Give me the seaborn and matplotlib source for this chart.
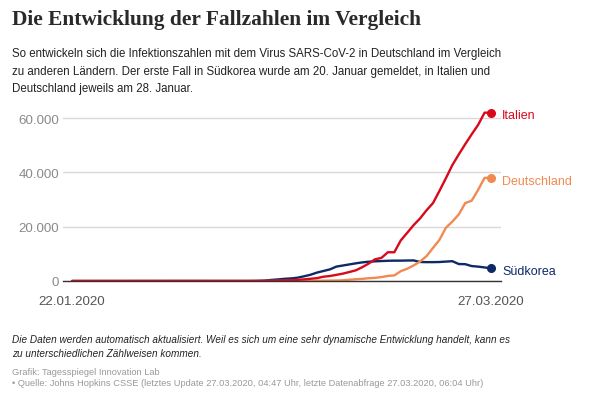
import pandas as pd
import matplotlib
matplotlib.use("Agg")
import matplotlib.pyplot as plt
import matplotlib.dates as mdates
from matplotlib.ticker import FuncFormatter
import seaborn as sns

# aktive Fälle pro Tag, 22.01.2020 bis 27.03.2020
dates = pd.date_range("2020-01-22", "2020-03-27", freq="D")

italien = [0] * 9 + [2] * 7 + [3] * 14 + [
    19, 59, 150, 221, 311, 438, 593, 821, 1053,
    1577, 1835, 2263, 2706, 3296, 3916, 5061, 6387, 7985, 8514,
    10590, 10590, 14955, 17750, 20603, 23073, 26062, 28710, 33190, 37860,
    42681, 46638, 50418, 54030, 57521, 62013, 62013]

deutschland = [0] * 6 + [4, 4, 4, 5] + [
    8, 10, 12, 12, 12, 12, 13, 13, 14, 14, 16, 16, 16, 16, 16, 16, 16, 16, 16, 16,
    2, 2, 2, 2, 3, 13, 32, 34, 63,
    114, 143, 180, 246, 466, 653, 781, 1022, 1156, 1437,
    1880, 2050, 3622, 4530, 5738, 7188, 9166, 12194, 15163, 19601,
    21896, 24513, 28710, 29586, 33570, 37998, 37998]

suedkorea = [1, 1, 2, 2, 3, 4, 4, 4, 4, 11,
    12, 15, 15, 16, 19, 22, 23, 24, 24, 24, 25, 21, 21, 21, 19, 19, 20, 21, 30,
    90, 190, 410, 590, 810, 950, 1230, 1730, 2300, 3100,
    3690, 4270, 5300, 5700, 6100, 6500, 6850, 7100, 7250, 7350,
    7450, 7500, 7500, 7550, 7580, 7000, 6950, 6950, 7000, 7150,
    7300, 6250, 6200, 5500, 5300, 5000, 4650]

laender = ["Italien", "Deutschland", "Südkorea"]
farben = {"Italien": "#d8091a", "Deutschland": "#f08a50", "Südkorea": "#0d2a66"}

df = pd.DataFrame({"Datum": dates, "Italien": italien,
                   "Deutschland": deutschland, "Südkorea": suedkorea})
long = df.melt(id_vars="Datum", var_name="Land", value_name="Fälle")

sns.set_style("white")
plt.rcParams["font.family"] = ["Liberation Sans", "DejaVu Sans"]

fig = plt.figure(figsize=(5.95, 4.02), dpi=100)
ax = fig.add_axes([63 / 595, 1 - 282 / 402, 438 / 595, 171 / 402])

sns.lineplot(data=long, x="Datum", y="Fälle", hue="Land", hue_order=laender[::-1],
             palette=farben, linewidth=1.7, legend=False, ax=ax)

for land in laender:
    ax.plot(dates[-1], df[land].iloc[-1], "o", color=farben[land], ms=5.5,
            clip_on=False, zorder=5)
    ax.annotate(land, (dates[-1], df[land].iloc[-1]), xytext=(8, -2),
                textcoords="offset points", va="center", ha="left",
                color=farben[land], fontsize=9)

ax.set_xlim(dates[0] - pd.Timedelta(days=1.4), dates[-1] + pd.Timedelta(days=1.55))
ax.set_ylim(0, 63000)
ax.set_yticks([0, 20000, 40000, 60000])
ax.yaxis.set_major_formatter(FuncFormatter(lambda v, p: f"{int(v):,}".replace(",", ".")))
ax.set_xticks([dates[0], dates[-1]])
ax.xaxis.set_major_formatter(mdates.DateFormatter("%d.%m.%Y"))
ax.grid(axis="y", color="#d9d9d9", linewidth=1)
ax.set_xlabel("")
ax.set_ylabel("")
for s in ["top", "right", "left"]:
    ax.spines[s].set_visible(False)
ax.spines["bottom"].set_color("#333333")
ax.spines["bottom"].set_linewidth(1)
ax.tick_params(axis="y", length=0, pad=3, labelsize=9.6, labelcolor="#8a8a8a")
ax.tick_params(axis="x", length=4, width=1, color="#333333", pad=6,
               labelsize=9.6, labelcolor="#555555")

fig.text(12 / 595, 1 - 25 / 402, "Die Entwicklung der Fallzahlen im Vergleich",
         fontsize=15.4, fontweight="bold", color="#2a2a2a", va="baseline",
         family=["Liberation Serif", "DejaVu Serif"])
unter = ["So entwickeln sich die Infektionszahlen mit dem Virus SARS-CoV-2 in Deutschland im Vergleich",
         "zu anderen Ländern. Der erste Fall in Südkorea wurde am 20. Januar gemeldet, in Italien und",
         "Deutschland jeweils am 28. Januar."]
for i, zeile in enumerate(unter):
    fig.text(12 / 595, 1 - (57 + 17.5 * i) / 402, zeile, fontsize=8.3,
             color="#222222", va="baseline")

fig.text(12 / 595, 1 - 343 / 402,
         "Die Daten werden automatisch aktualisiert. Weil es sich um eine sehr dynamische Entwicklung handelt, kann es",
         fontsize=7.2, style="italic", color="#222222", va="baseline")
fig.text(12 / 595, 1 - 357 / 402, "zu unterschiedlichen Zählweisen kommen.",
         fontsize=7.2, style="italic", color="#222222", va="baseline")
fig.text(12 / 595, 1 - 375 / 402, "Grafik: Tagesspiegel Innovation Lab",
         fontsize=6.7, color="#999999", va="baseline")
fig.text(12 / 595, 1 - 386.5 / 402,
         "• Quelle: Johns Hopkins CSSE (letztes Update 27.03.2020, 04:47 Uhr, letzte Datenabfrage 27.03.2020, 06:04 Uhr)",
         fontsize=6.7, color="#999999", va="baseline")

fig.savefig("out.png", dpi=100, facecolor="white")
